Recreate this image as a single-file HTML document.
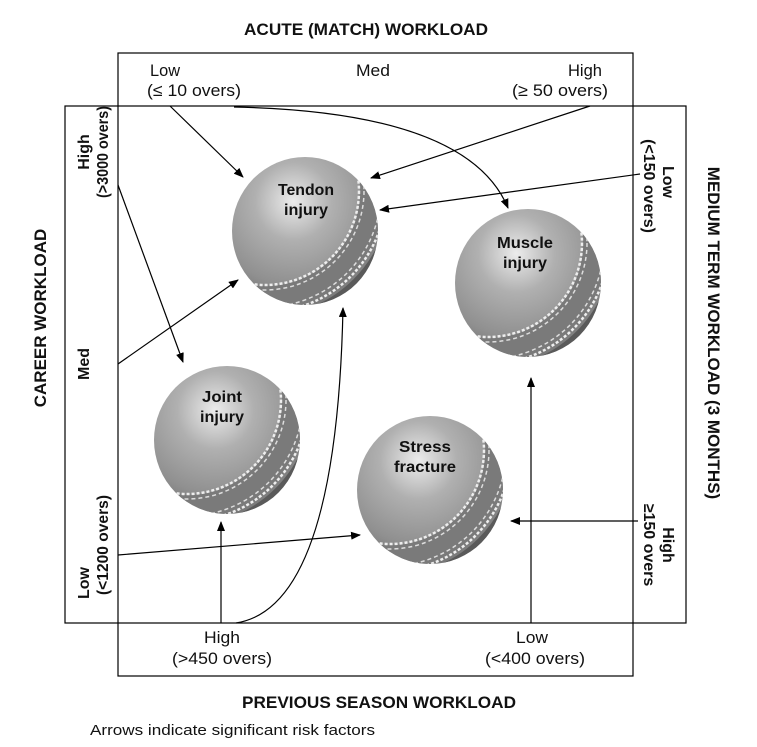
<!DOCTYPE html>
<html><head><meta charset="utf-8"><style>
html,body{margin:0;padding:0;background:#fff;}
svg{display:block;font-family:"Liberation Sans",Arial,sans-serif;}
.b{font-weight:bold;}
</style></head><body>
<svg width="757" height="747" viewBox="0 0 757 747" xmlns="http://www.w3.org/2000/svg">
<defs>
  <radialGradient id="g" cx="0.42" cy="0.3" r="0.75">
    <stop offset="0" stop-color="#ececec"/>
    <stop offset="0.35" stop-color="#b0b0b0"/>
    <stop offset="0.75" stop-color="#909090"/>
    <stop offset="1" stop-color="#707070"/>
  </radialGradient>
  <clipPath id="c"><ellipse cx="0" cy="0" rx="73" ry="74"/></clipPath>
  <marker id="a" markerWidth="10" markerHeight="8" refX="9" refY="4" orient="auto" markerUnits="userSpaceOnUse">
    <path d="M0,0 L10,4 L0,8 z" fill="#000"/>
  </marker>
  <g id="ball">
    <ellipse cx="0" cy="0" rx="73" ry="74" fill="url(#g)"/>
    <g clip-path="url(#c)" fill="none">
      <circle cx="-40" cy="-40" r="108" stroke="#7a7a7a" stroke-width="26"/>
      <circle cx="-40" cy="-40" r="94" stroke="#eee" stroke-width="2.5" stroke-dasharray="3 2"/>
      <circle cx="-40" cy="-40" r="99" stroke="#ddd" stroke-width="1.5" stroke-dasharray="4 3"/>
      <circle cx="-40" cy="-40" r="116" stroke="#ddd" stroke-width="1.5" stroke-dasharray="4 3"/>
      <circle cx="-40" cy="-40" r="121" stroke="#eee" stroke-width="2.5" stroke-dasharray="3 2"/>
      <circle cx="-40" cy="-40" r="132" stroke="#5a5a5a" stroke-width="14"/>
    </g>
  </g>
</defs>

<rect x="118" y="53" width="515" height="623" fill="none" stroke="#000" stroke-width="1.2"/>
<rect x="65" y="106" width="621" height="517" fill="none" stroke="#000" stroke-width="1.2"/>

<use href="#ball" x="305" y="231"/>
<use href="#ball" x="528" y="283"/>
<use href="#ball" x="227" y="440"/>
<use href="#ball" x="430" y="490"/>

<g class="b" font-size="16" text-anchor="middle" fill="#111">
  <text x="306" y="195" textLength="56" lengthAdjust="spacingAndGlyphs">Tendon</text><text x="306" y="215" textLength="44" lengthAdjust="spacingAndGlyphs">injury</text>
  <text x="525" y="248" textLength="56" lengthAdjust="spacingAndGlyphs">Muscle</text><text x="525" y="268" textLength="44" lengthAdjust="spacingAndGlyphs">injury</text>
  <text x="222" y="402" textLength="40" lengthAdjust="spacingAndGlyphs">Joint</text><text x="222" y="422" textLength="44" lengthAdjust="spacingAndGlyphs">injury</text>
  <text x="425" y="452" textLength="52" lengthAdjust="spacingAndGlyphs">Stress</text><text x="425" y="472" textLength="62" lengthAdjust="spacingAndGlyphs">fracture</text>
</g>

<g stroke="#000" stroke-width="1.2" fill="none" marker-end="url(#a)">
  <line x1="170" y1="106" x2="243" y2="177"/>
  <path d="M234,107 C380,110 480,140 508,208"/>
  <line x1="590" y1="106" x2="371" y2="178"/>
  <line x1="640" y1="174" x2="380" y2="210"/>
  <line x1="118" y1="185" x2="183" y2="362"/>
  <line x1="118" y1="364" x2="238" y2="280"/>
  <path d="M236,623 C320,610 340,450 343,308"/>
  <line x1="221" y1="623" x2="221" y2="522"/>
  <line x1="118" y1="555" x2="360" y2="535"/>
  <line x1="638" y1="521" x2="511" y2="521"/>
  <line x1="531" y1="623" x2="531" y2="378"/>
</g>

<g class="b" fill="#111" font-size="17">
  <text x="244" y="35" textLength="244" lengthAdjust="spacingAndGlyphs">ACUTE (MATCH) WORKLOAD</text>
  <text x="242" y="708" textLength="274" lengthAdjust="spacingAndGlyphs">PREVIOUS SEASON WORKLOAD</text>
  <text transform="translate(46,318) rotate(-90)" text-anchor="middle">CAREER WORKLOAD</text>
  <text transform="translate(708,333) rotate(90)" text-anchor="middle">MEDIUM TERM WORKLOAD (3 MONTHS)</text>
</g>
<g fill="#111" font-size="17">
  <text x="150" y="76" textLength="30" lengthAdjust="spacingAndGlyphs">Low</text>
  <text x="147" y="96" textLength="94" lengthAdjust="spacingAndGlyphs">(≤ 10 overs)</text>
  <text x="356" y="76" textLength="34" lengthAdjust="spacingAndGlyphs">Med</text>
  <text x="568" y="76" textLength="34" lengthAdjust="spacingAndGlyphs">High</text>
  <text x="512" y="96" textLength="96" lengthAdjust="spacingAndGlyphs">(≥ 50 overs)</text>
  <text x="204" y="643" textLength="36" lengthAdjust="spacingAndGlyphs">High</text>
  <text x="172" y="664" textLength="100" lengthAdjust="spacingAndGlyphs">(&gt;450 overs)</text>
  <text x="516" y="643" textLength="32" lengthAdjust="spacingAndGlyphs">Low</text>
  <text x="485" y="664" textLength="100" lengthAdjust="spacingAndGlyphs">(&lt;400 overs)</text>
</g>
<g class="b" fill="#111" font-size="16">
  <text transform="translate(89,152) rotate(-90)" text-anchor="middle">High</text>
  <text transform="translate(108,152) rotate(-90)" text-anchor="middle" textLength="92" lengthAdjust="spacingAndGlyphs">(&gt;3000 overs)</text>
  <text transform="translate(89,364) rotate(-90)" text-anchor="middle">Med</text>
  <text transform="translate(89,583) rotate(-90)" text-anchor="middle">Low</text>
  <text transform="translate(108,545) rotate(-90)" text-anchor="middle" textLength="100" lengthAdjust="spacingAndGlyphs">(&lt;1200 overs)</text>
  <text transform="translate(663,182) rotate(90)" text-anchor="middle">Low</text>
  <text transform="translate(644,186) rotate(90)" text-anchor="middle">(&lt;150 overs)</text>
  <text transform="translate(663,545) rotate(90)" text-anchor="middle">High</text>
  <text transform="translate(644,545) rotate(90)" text-anchor="middle">≥150 overs</text>
</g>
<text x="90" y="735" font-size="15" fill="#111" textLength="285" lengthAdjust="spacingAndGlyphs">Arrows indicate significant risk factors</text>
</svg>
</body></html>
